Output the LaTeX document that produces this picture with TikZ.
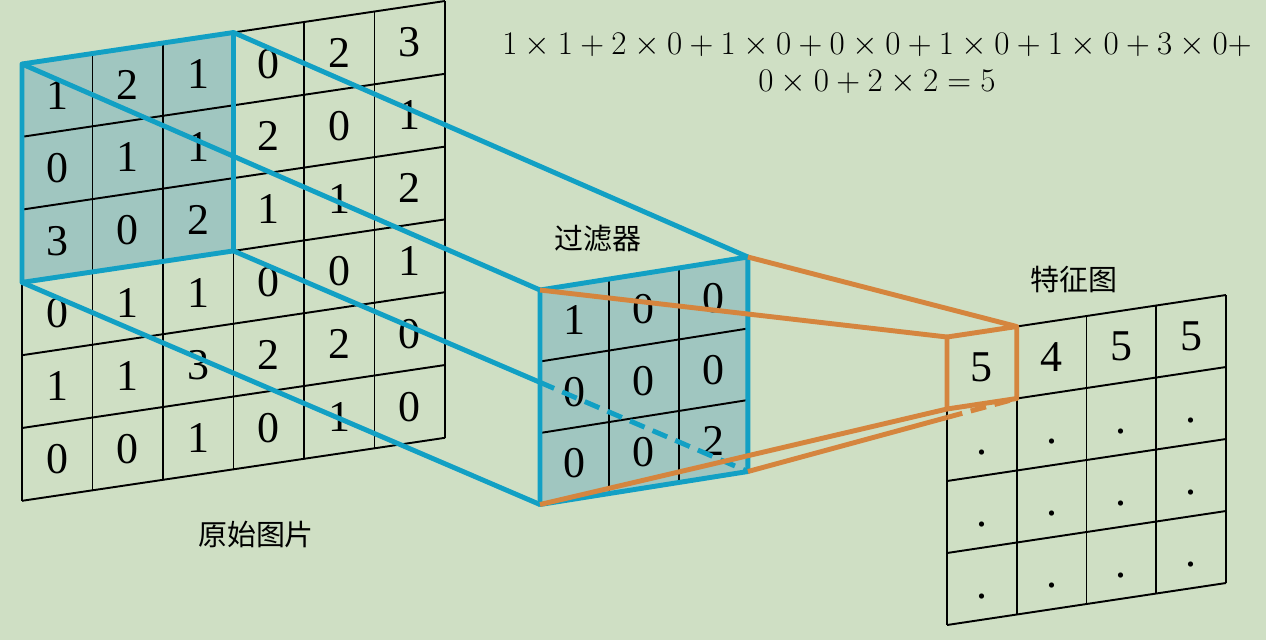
\RequirePackage{fix-cm}
\documentclass[tikz,border=0pt]{standalone}
\usepackage{fontspec}
\usepackage{amsmath}
\usetikzlibrary{calc}
\newfontfamily\cjk{Noto Sans CJK SC}
\newfontfamily\numfont{Liberation Serif}
\definecolor{bgcol}{RGB}{207,223,196}
\definecolor{lightteal}{RGB}{160,198,192}
\definecolor{edgeblue}{RGB}{18,160,196}
\definecolor{edgeorange}{RGB}{213,133,62}
\tikzset{
	cellnum/.style={font=\numfont\fontsize{25}{25}\selectfont, inner sep=0pt},
	caption/.style={font=\cjk\fontsize{16.5}{16.5}\selectfont, inner sep=0pt},
	gridline/.style={black, line width=1.1pt},
	blueedge/.style={edgeblue, line width=2.8pt, line join=round},
	orangeedge/.style={edgeorange, line width=2.8pt, line join=round},
	cutdash/.style={dash pattern=on 9pt off 5pt},
}

\begin{document}
\begin{tikzpicture}[x=0.02cm, y=-0.02cm]
	\fill[bgcol] (0,0) rectangle (1266,640);
	\useasboundingbox (0,0) rectangle (1266,640);
	% corners of the three grids
	\foreach \i in {0,...,6}
		\foreach \j in {0,...,6}
			\coordinate (o\i\j) at ({22+70.5*\i},{64-10.5*\i+72.8*\j});
	\foreach \i in {0,...,3}
		\foreach \j in {0,...,3}
			\coordinate (f\i\j) at ({540+69.3*\i},{290-11*\i+71.5*\j});
	\foreach \i in {0,...,4}
		\foreach \j in {0,...,4}
			\coordinate (m\i\j) at ({947+69.75*\i},{337-10.5*\i+72*\j});
	% shaded windows
	\fill[lightteal] (o00) -- (o30) -- (o33) -- (o03) -- cycle;
	\fill[lightteal] (f00) -- (f30) -- (f33) -- (f03) -- cycle;
	% grid lines
	\foreach \k in {0,...,6} {
		\draw[gridline] (o\k0) -- (o\k6);
		\draw[gridline] (o0\k) -- (o6\k);
	}
	\foreach \k in {0,...,3} {
		\draw[gridline] (f\k0) -- (f\k3);
		\draw[gridline] (f0\k) -- (f3\k);
	}
	\foreach \k in {0,...,4} {
		\draw[gridline] (m\k0) -- (m\k4);
		\draw[gridline] (m0\k) -- (m4\k);
	}
	% numbers
	\foreach \r/\vals in {0/{1,2,1,0,2,3},1/{0,1,1,2,0,1},2/{3,0,2,1,1,2},3/{0,1,1,0,0,1},4/{1,1,3,2,2,0},5/{0,0,1,0,1,0}}
		\foreach \v [count=\c from 0] in \vals
			\node[cellnum] (on\c\r) at ({22+70.5*(\c+0.5)},{64-10.5*(\c+0.5)+72.8*(\r+0.5)}) {\v};
	\foreach \r/\vals in {0/{1,0,0},1/{0,0,0},2/{0,0,2}}
		\foreach \v [count=\c from 0] in \vals
			\node[cellnum] (fn\c\r) at ({540+69.3*(\c+0.5)},{290-11*(\c+0.5)+71.5*(\r+0.5)}) {\v};
	\foreach \v [count=\c from 0] in {5,4,5,5}
		\node[cellnum] (mn\c0) at ({947+69.75*(\c+0.5)},{337-10.5*(\c+0.5)+36}) {\v};
	\foreach \c in {0,...,3}
		\foreach \r in {1,2,3}
			\node[cellnum, yshift=-7pt] (mn\c\r) at ({947+69.75*(\c+0.5)},{337-10.5*(\c+0.5)+72*(\r+0.5)}) {.};
	% blue window and its rays
	\draw[blueedge] (o00) -- (o30) -- (o33) -- (o03) -- cycle;
	\draw[blueedge] (f00) -- (f30) -- (f33) -- (f03) -- cycle;
	\draw[blueedge] (o00) -- (f00);
	\draw[blueedge] (o30) -- (f30);
	\draw[blueedge] (o03) -- (f03);
	\draw[blueedge] (o33) -- ($(o33)!0.595!(f33)$) coordinate (bcut);
	\draw[blueedge, cutdash] (bcut) -- (f33);
	% orange rays to the feature map
	\draw[orangeedge] (f00) -- (m00);
	\draw[orangeedge] (f30) -- (m10);
	\draw[orangeedge] (f03) -- (m01);
	\draw[orangeedge] (f33) -- ($(f33)!0.7405!(m11)$) coordinate (ocut);
	\draw[orangeedge, cutdash] (ocut) -- (m11);
	\draw[orangeedge] (m00) -- (m10) -- (m11) -- (m01) -- cycle;
	% labels
	\node[caption] (orig) at (256,534) {原始图片};
	\node[caption] (filt) at (598,239) {过滤器};
	\node[caption] (feat) at (1074,279) {特征图};
	\node[font=\fontsize{18.8}{21}\selectfont, align=center, inner sep=0pt] (sum) at (877,64)
		{$1\times1+2\times0+1\times0+0\times0+1\times0+1\times0+3\times0+$\\$0\times0+2\times2=5$};
\end{tikzpicture}
\end{document}
